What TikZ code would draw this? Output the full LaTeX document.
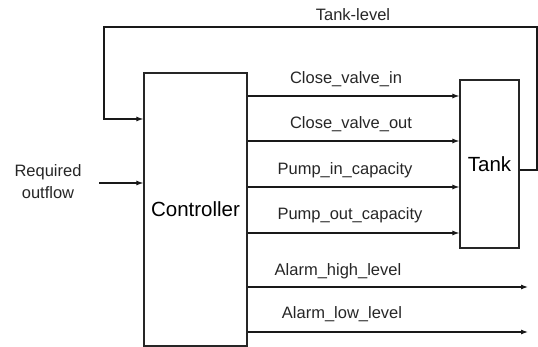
\documentclass[tikz,border=0pt]{standalone}
\usepackage{fontspec}
\setmainfont{Liberation Sans}
\usetikzlibrary{arrows.meta}
\begin{document}
\begin{tikzpicture}[x=1pt,y=-1pt,
  blk/.style={draw=black!85,line width=1.2pt,inner sep=0pt},
  conn/.style={draw=black!90,line width=1.1pt,-{Latex[length=7pt,width=5pt]}},
  lbl/.style={inner sep=0pt,text=black!85,font=\fontsize{16.5}{19}\selectfont},
  big/.style={font=\fontsize{20.5}{24}\selectfont}]
\useasboundingbox (0,0) rectangle (538,347);
\node[blk,minimum width=103pt,minimum height=273pt,big] (ctrl) at (195.5,209.5) {Controller};
\node[blk,minimum width=59pt,minimum height=168pt,big] (tank) at (489.5,164) {Tank};
% labels
\node[lbl] (tl) at (353,15) {Tank-level};
\node[lbl] (l1) at (346,79) {Close\_valve\_in};
\node[lbl] (l2) at (351,124) {Close\_valve\_out};
\node[lbl] (l3) at (345,170) {Pump\_in\_capacity};
\node[lbl] (l4) at (350,215) {Pump\_out\_capacity};
\node[lbl] (l5) at (338,271) {Alarm\_high\_level};
\node[lbl] (l6) at (342,314) {Alarm\_low\_level};
\node[lbl,align=center,font=\fontsize{16.5}{22}\selectfont] (req) at (48,182) {Required\\outflow};
% coordinates
\coordinate (fbA) at (537,170);
\coordinate (fbB) at (537,27);
\coordinate (fbC) at (104,27);
\coordinate (fbD) at (104,119);
\coordinate (rin) at (99,183);
\coordinate (ah) at (528,287);
\coordinate (al) at (528,332);
% connectors
\draw[conn] (tank.east |- fbA) -- (fbA) -- (fbB) -- (fbC) -- (fbD) -- (ctrl.west |- fbD);
\draw[conn] (rin) -- (ctrl.west |- rin);
\draw[conn] (ctrl.east |- 0,96) -- (tank.west |- 0,96);
\draw[conn] (ctrl.east |- 0,141) -- (tank.west |- 0,141);
\draw[conn] (ctrl.east |- 0,187) -- (tank.west |- 0,187);
\draw[conn] (ctrl.east |- 0,233) -- (tank.west |- 0,233);
\draw[conn] (ctrl.east |- ah) -- (ah);
\draw[conn] (ctrl.east |- al) -- (al);
\end{tikzpicture}
\end{document}
